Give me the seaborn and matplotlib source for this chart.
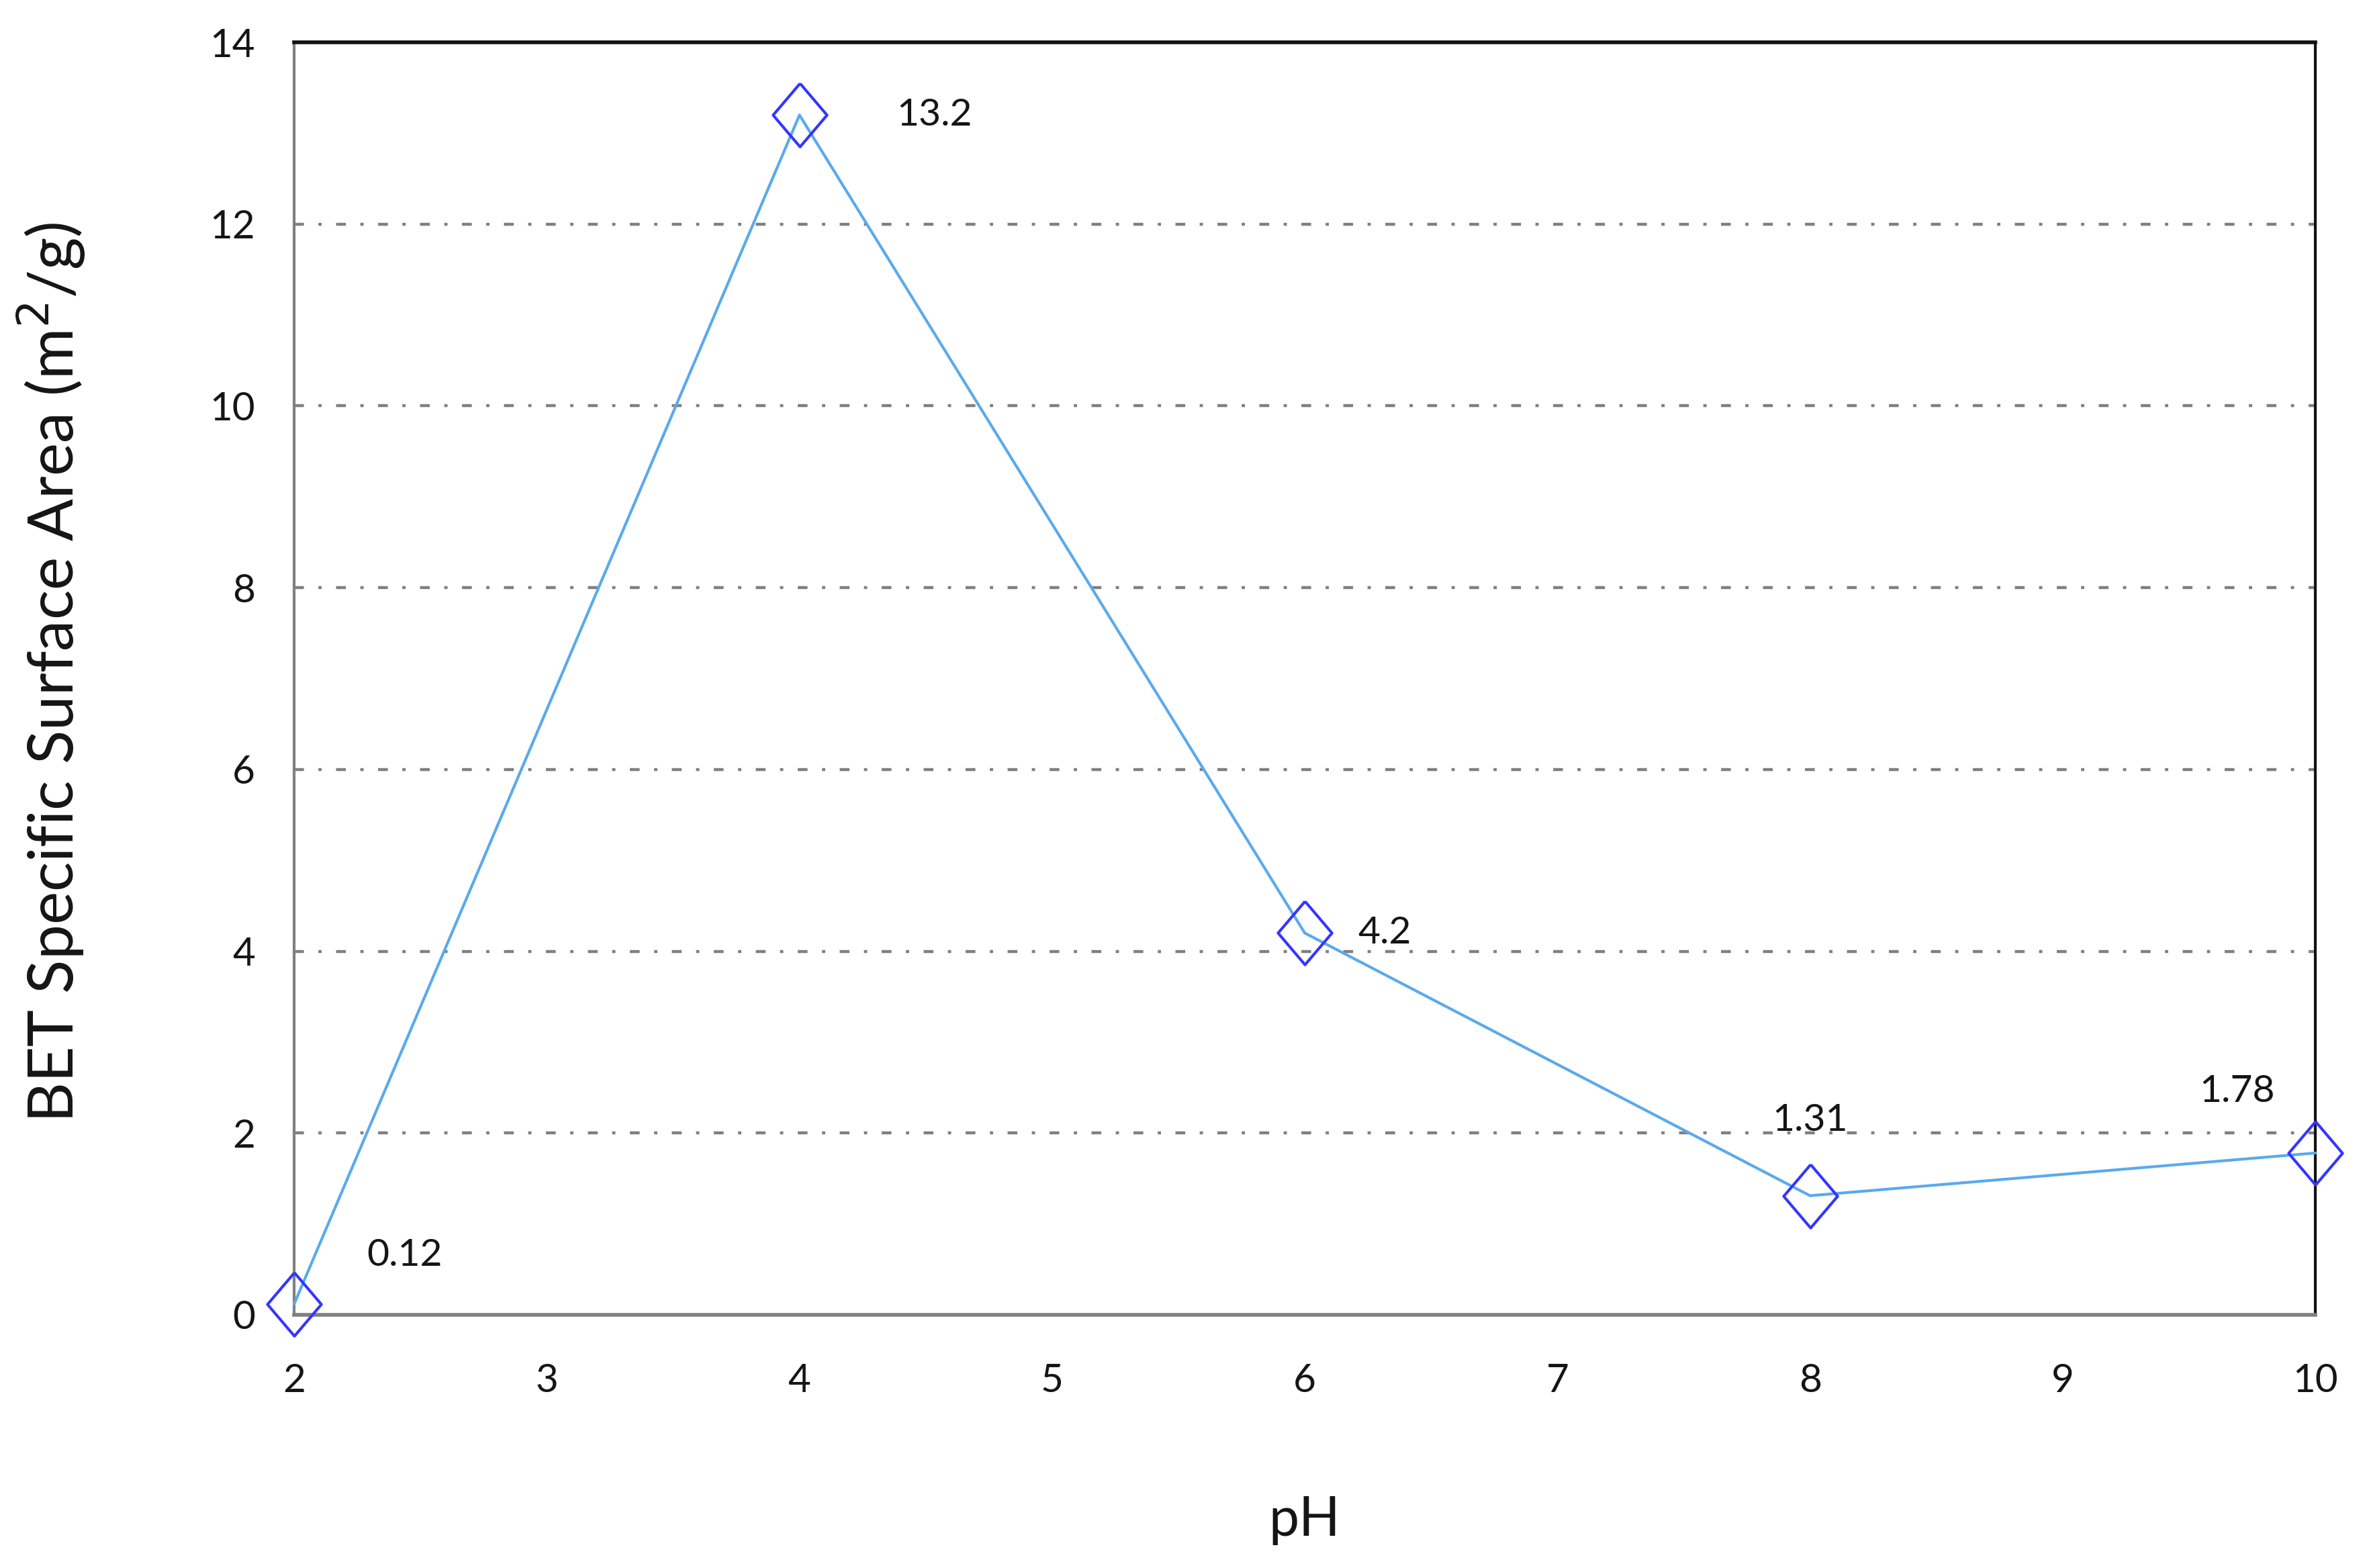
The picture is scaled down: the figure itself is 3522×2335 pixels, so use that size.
import matplotlib
matplotlib.use("Agg")
import matplotlib.pyplot as plt
import seaborn as sns
import pandas as pd

ph = [2, 4, 6, 8, 10]
area = [0.12, 13.2, 4.2, 1.31, 1.78]
labels = ["0.12", "13.2", "4.2", "1.31", "1.78"]
label_offsets = [(118, 52), (145, 0), (86, 0), (0, 81), (-84, 66)]
xticks = [2, 3, 4, 5, 6, 7, 8, 9, 10]
yticks = [0, 2, 4, 6, 8, 10, 12, 14]
grid_vals = [2, 4, 6, 8, 10, 12]

sns.set_style("white")
plt.rcParams['font.family'] = ['Lato', 'DejaVu Sans']
plt.rcParams['lines.scale_dashes'] = False

fig = plt.figure(figsize=(35.22, 23.35), dpi=100)
ax = fig.add_axes([0.1244, 0.1615, 0.979 - 0.1244, 0.973 - 0.1615])

df = pd.DataFrame({"pH": ph, "area": area})

for g in grid_vals:
    ax.axhline(g, color="#808080", lw=3.2, linestyle=(0, (10.5, 15.5, 3.5, 15.5)), zorder=1)

diamond = [(0, 1), (0.85, 0), (0, -1), (-0.85, 0), (0, 1)]
sns.lineplot(data=df, x="pH", y="area", ax=ax, color="#5aaaec", lw=3.0,
             marker=diamond, markersize=68, markerfacecolor="none",
             markeredgecolor="#3535ff", markeredgewidth=3.0, zorder=3, clip_on=False)

for x, y, t, off in zip(ph, area, labels, label_offsets):
    ax.annotate(t, (x, y), xytext=off, textcoords="offset points",
                ha="center", va="center", fontsize=41, color="#151515")

ax.set_xlim(2, 10)
ax.set_ylim(0, 14)
ax.set_xticks(xticks)
ax.set_yticks(yticks)
ax.tick_params(axis="both", labelsize=42, colors="#151515")
ax.tick_params(axis="x", direction="out", length=14, width=2.5, color="#808080", pad=38)
ax.tick_params(axis="y", direction="out", length=14, width=2.5, color="#808080", pad=28)

ax.spines["left"].set_color("#808080")
ax.spines["left"].set_linewidth(3.0)
ax.spines["bottom"].set_color("#808080")
ax.spines["bottom"].set_linewidth(4.0)
ax.spines["top"].set_color("#111111")
ax.spines["top"].set_linewidth(4.0)
ax.spines["right"].set_color("#111111")
ax.spines["right"].set_linewidth(3.0)

ax.set_xlabel("pH", fontsize=58, color="#151515", va="center")
ax.set_ylabel("BET Specific Surface Area (m$^2$/g)", fontsize=67, color="#151515", va="center")
ax.xaxis.set_label_coords(0.5, -0.1615)
ax.yaxis.set_label_coords(-0.12, 0.505)

fig.savefig("out.png", dpi=100)
